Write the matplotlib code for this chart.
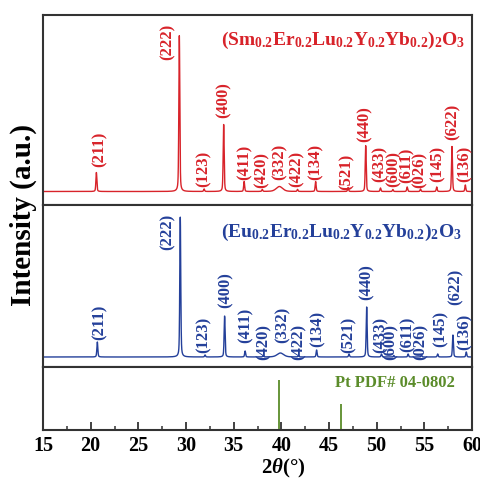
import numpy as np
import matplotlib
matplotlib.use("Agg")
import matplotlib.pyplot as plt
from matplotlib.ticker import MultipleLocator

plt.rcParams['font.family'] = ['Liberation Serif', 'DejaVu Serif']
plt.rcParams['font.weight'] = 'bold'
plt.rcParams['mathtext.fontset'] = 'custom'
plt.rcParams['mathtext.bf'] = 'Liberation Serif:bold'
plt.rcParams['mathtext.rm'] = 'Liberation Serif:bold'
plt.rcParams['mathtext.it'] = 'Liberation Serif:italic:bold'
plt.rcParams['mathtext.default'] = 'bf'

# ---------------- data ----------------
hkl = ['(211)', '(222)', '(123)', '(400)', '(411)', '(420)', '(332)', '(422)', '(134)',
       '(521)', '(440)', '(433)', '(600)', '(611)', '(026)', '(145)', '(622)', '(136)']
peak_2theta = [20.6, 29.3, 31.9, 33.95, 36.1, 38.0, 39.8, 41.7, 43.6,
               47.0, 48.85, 50.4, 51.7, 53.2, 54.6, 56.3, 57.9, 59.3]
sm_heights = [19, 156, 2.5, 67, 10, 2, 5, 2, 10, 4, 46, 3.5, 2, 4.5, 2.5, 4.5, 45, 6.5]
eu_heights = [15, 140, 2, 41, 6, 1.5, 4, 1.5, 7, 3, 50, 3, 1.5, 3, 2, 3, 22, 5]
eu_shift = 0.1
hump_widths = [0.06, 0.06, 0.06, 0.06, 0.06, 0.06, 0.4, 0.06, 0.06,
               0.06, 0.06, 0.06, 0.06, 0.06, 0.06, 0.06, 0.06, 0.06]
sm_background = 1.5
eu_background = 1.0

pt_2theta = [39.76, 46.24]
pt_intensity = [100, 53]

sm_name = r'$(Sm_{0.2}Er_{0.2}Lu_{0.2}Y_{0.2}Yb_{0.2})_2O_3$'
eu_name = r'$(Eu_{0.2}Er_{0.2}Lu_{0.2}Y_{0.2}Yb_{0.2})_2O_3$'
pt_name = 'Pt PDF# 04-0802'

x_ticks = [15, 20, 25, 30, 35, 40, 45, 50, 55, 60]

# label layout (x in 2theta, y bottom in axes fraction)
sm_lab_x = [20.9, 28.1, 31.9, 33.9, 36.1, 37.9, 39.8, 41.6, 43.6,
            46.9, 48.7, 50.3, 51.8, 53.1, 54.5, 56.4, 58.0, 59.2]
sm_lab_y = [0.200, 0.763, 0.095, 0.458, 0.132, 0.089, 0.132, 0.095, 0.132,
            0.079, 0.332, 0.121, 0.095, 0.116, 0.089, 0.121, 0.342, 0.121]
eu_lab_x = [20.9, 28.1, 31.9, 34.2, 36.3, 38.1, 40.1, 41.8, 43.8,
            47.1, 48.9, 50.4, 51.5, 53.3, 54.6, 56.7, 58.3, 59.2]
eu_lab_y = [0.167, 0.722, 0.086, 0.364, 0.148, 0.043, 0.148, 0.043, 0.123,
            0.086, 0.414, 0.086, 0.043, 0.093, 0.043, 0.123, 0.383, 0.105]

red = '#d8232a'
blue = '#24409a'
green = '#5b8c2a'
spine_c = '#333333'

x = np.linspace(15, 60, 6000)


def pattern(centers, heights, widths, bg, shift=0.0):
    y = np.full_like(x, bg)
    for c, h, w in zip(centers, heights, widths):
        d = (x - (c + shift)) / w
        y += h * (0.6 * np.exp(-np.log(2) * d ** 2) + 0.4 / (1 + d ** 2))
    return y


W, H = 481, 479
fig = plt.figure(figsize=(W / 100, H / 100), dpi=100)
L, R = 43, 472


def add(top, bot):
    return fig.add_axes([L / W, 1 - bot / H, (R - L) / W, (bot - top) / H])


ax1 = add(15, 205)
ax2 = add(205, 367)
ax3 = add(367, 430)

for ax in (ax1, ax2, ax3):
    ax.set_xlim(15, 60)
    for s in ax.spines.values():
        s.set_color(spine_c)
        s.set_linewidth(1.5)
    ax.set_yticks([])

for ax in (ax1, ax2):
    ax.tick_params(axis='x', bottom=False, labelbottom=False)

# top panel
ax1.plot(x, pattern(peak_2theta, sm_heights, hump_widths, sm_background), color=red, lw=1.0)
ax1.set_ylim(-12, 178)
for t, lx, ly in zip(hkl, sm_lab_x, sm_lab_y):
    ax1.text(lx, ly, t, transform=ax1.get_xaxis_transform(), rotation=90,
             ha='center', va='bottom', color=red, fontsize=12, fontweight='bold')
ax1.text(0.985, 0.868, sm_name, transform=ax1.transAxes, ha='right', va='center',
         color=red, fontsize=14)

# middle panel
ax2.plot(x, pattern(peak_2theta, eu_heights, hump_widths, eu_background, eu_shift), color=blue, lw=1.0)
ax2.set_ylim(-9, 153)
for t, lx, ly in zip(hkl, eu_lab_x, eu_lab_y):
    ax2.text(lx, ly, t, transform=ax2.get_xaxis_transform(), rotation=90,
             ha='center', va='bottom', color=blue, fontsize=12, fontweight='bold')
ax2.text(0.977, 0.833, eu_name, transform=ax2.transAxes, ha='right', va='center',
         color=blue, fontsize=14)

# bottom panel
ax3.vlines(pt_2theta, 0, pt_intensity, color=green, lw=1.3)
ax3.set_ylim(0, 126)
ax3.text(0.96, 0.74, pt_name, transform=ax3.transAxes, ha='right', va='center',
         color=green, fontsize=12, fontweight='bold')
ax3.set_xticks(x_ticks)
ax3.set_xticklabels([str(v) for v in x_ticks])
ax3.xaxis.set_minor_locator(MultipleLocator(2.5))
ax3.tick_params(axis='x', which='major', direction='in', length=6, width=1.3,
                labelsize=14.5, pad=4, color=spine_c)
ax3.tick_params(axis='x', which='minor', direction='in', length=3, width=1.1, color=spine_c)
ax3.set_xlabel(r'2$\mathit{\theta}$(°)', fontsize=15, fontweight='bold', labelpad=0)
ax3.xaxis.set_label_coords(0.56, -0.43)

fig.text(23 / W, 1 - 215 / H, 'Intensity (a.u.)', rotation=90, ha='center', va='center',
         fontsize=21, fontweight='bold')

fig.savefig('out.png', dpi=100)
